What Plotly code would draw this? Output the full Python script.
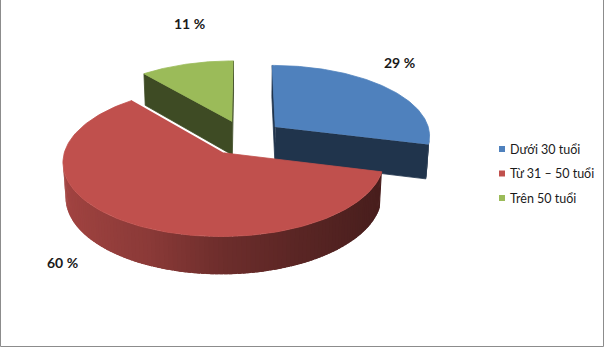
import numpy as np
import plotly.graph_objects as go

# ---------------- data ----------------
categories = ["Dưới 30 tuổi", "Từ 31 – 50 tuổi", "Trên 50 tuổi"]
values = [29, 60, 11]
label_texts = ["29 %", "60 %", "11 %"]

# ---------------- style ----------------
TOP_COLORS = [(79, 129, 189), (192, 80, 77), (155, 187, 89)]
W, H = 605, 348
FONT = "Lato"

# simple perspective camera for a 3-D looking pie
ELEV = np.radians(27)
DIST = 8.0
FOCAL = 1245.0
CX, CY = 245.0, 137.6
EXPLODE = 0.25
THICK = 0.25
se, ce = np.sin(ELEV), np.cos(ELEV)
CAM = np.array([0.0, DIST * se, -DIST * ce])

# wall shading vs. horizontal component of the wall normal
SHADE_S = [-1.0, -0.4, 0.0, 0.43, 0.85, 1.0]
SHADE_K = [0.85, 0.72, 0.57, 0.47, 0.39, 0.37]


def proj(X, Y, Z):
    depth = DIST - Y * se + Z * ce
    up = Y * ce + Z * se
    return CX + FOCAL * X / depth, CY - FOCAL * up / depth


def rgb(c, k=1.0):
    return "rgb(%d,%d,%d)" % tuple(int(round(v * k)) for v in c)


def poly(xs, ys, color, lw=0.8):
    return go.Scatter(x=list(xs), y=list(ys), mode="lines", fill="toself",
                      fillcolor=color, line=dict(color=color, width=lw),
                      hoverinfo="skip", showlegend=False)


fracs = np.array(values, dtype=float) / sum(values)
ends = np.cumsum(fracs) * 360.0
starts = ends - fracs * 360.0

slices = []
for i in range(len(values)):
    mid = np.radians((starts[i] + ends[i]) / 2)
    ox, oz = EXPLODE * np.sin(mid), EXPLODE * np.cos(mid)
    slices.append(dict(i=i, a0=starts[i], a1=ends[i], ox=ox, oz=oz))

# painter's order: far slices first
slices.sort(key=lambda s: -(s["oz"]))

traces = []
for s in slices:
    base = TOP_COLORS[s["i"]]
    ox, oz = s["ox"], s["oz"]
    a0, a1 = np.radians(s["a0"]), np.radians(s["a1"])
    C = np.array([ox, 0.0, oz])

    # outer wall (overlapping strips to avoid seams)
    n = max(int((s["a1"] - s["a0"]) / 1.5), 2)
    th = np.linspace(a0, a1, n + 1)
    step = th[1] - th[0]
    for k in range(n):
        tm = (th[k] + th[k + 1]) / 2
        nrm = np.array([np.sin(tm), 0.0, np.cos(tm)])
        P = np.array([ox + np.sin(tm), -THICK / 2, oz + np.cos(tm)])
        if np.dot(nrm, CAM - P) <= 0:
            continue
        tb = th[k + 1] + (0.8 * step if k < n - 1 else 0.0)
        ts = np.linspace(th[k], tb, 4)
        xs, ys = [], []
        for t in ts:
            px, py = proj(ox + np.sin(t), 0.0, oz + np.cos(t))
            xs.append(px)
            ys.append(py)
        for t in ts[::-1]:
            px, py = proj(ox + np.sin(t), -THICK, oz + np.cos(t))
            xs.append(px)
            ys.append(py)
        fac = float(np.interp(np.sin(tm), SHADE_S, SHADE_K))
        traces.append(poly(xs, ys, rgb(base, fac), lw=0))

    # radial cut faces
    for a, nrm in ((a0, np.array([-np.cos(a0), 0.0, np.sin(a0)])),
                   (a1, np.array([np.cos(a1), 0.0, -np.sin(a1)]))):
        if np.dot(nrm, CAM - C) <= 0:
            continue
        pts = [(ox, 0.0, oz), (ox + np.sin(a), 0.0, oz + np.cos(a)),
               (ox + np.sin(a), -THICK, oz + np.cos(a)), (ox, -THICK, oz)]
        xs, ys = zip(*[proj(*p) for p in pts])
        traces.append(poly(xs, ys, rgb(base, 0.40)))

    # top face
    th = np.linspace(a0, a1, 120)
    xs, ys = [], []
    px, py = proj(ox, 0.0, oz)
    xs.append(px)
    ys.append(py)
    for t in th:
        px, py = proj(ox + np.sin(t), 0.0, oz + np.cos(t))
        xs.append(px)
        ys.append(py)
    traces.append(poly(xs, ys, rgb(base)))

fig = go.Figure(traces)

# data labels (outside end)
label_pos = {0: (399, 62), 1: (62, 262), 2: (189, 23)}
annotations = []
for i, txt in enumerate(label_texts):
    x, y = label_pos[i]
    annotations.append(dict(x=x, y=y, xref="x", yref="y", text="<b>%s</b>" % txt,
                            showarrow=False, font=dict(family=FONT, size=14, color="#1a1a1a"),
                            xanchor="center", yanchor="middle"))

# legend
shapes = []
LEG_X, LEG_Y0, LEG_DY = 502, 149, 24.5
for i, cat in enumerate(categories):
    yc = LEG_Y0 + i * LEG_DY
    shapes.append(dict(type="rect", xref="x", yref="y", x0=LEG_X - 3, x1=LEG_X + 3,
                       y0=yc - 3, y1=yc + 3, fillcolor=rgb(TOP_COLORS[i]), line=dict(width=0)))
    annotations.append(dict(x=LEG_X + 6, y=yc, xref="x", yref="y", text=cat, showarrow=False,
                            font=dict(family=FONT, size=12.5, color="#1a1a1a"),
                            xanchor="left", yanchor="middle"))

# chart frame
shapes.append(dict(type="rect", xref="x", yref="y", x0=0.5, x1=603.5, y0=-3, y1=346.5,
                   line=dict(color="#8c8c8c", width=1), fillcolor="rgba(0,0,0,0)"))

fig.update_layout(
    width=W, height=H, margin=dict(l=0, r=0, t=0, b=0),
    paper_bgcolor="white", plot_bgcolor="white",
    xaxis=dict(range=[0, W], visible=False, fixedrange=True),
    yaxis=dict(range=[H, 0], visible=False, fixedrange=True),
    showlegend=False, annotations=annotations, shapes=shapes,
)

fig.write_html("out.html")
